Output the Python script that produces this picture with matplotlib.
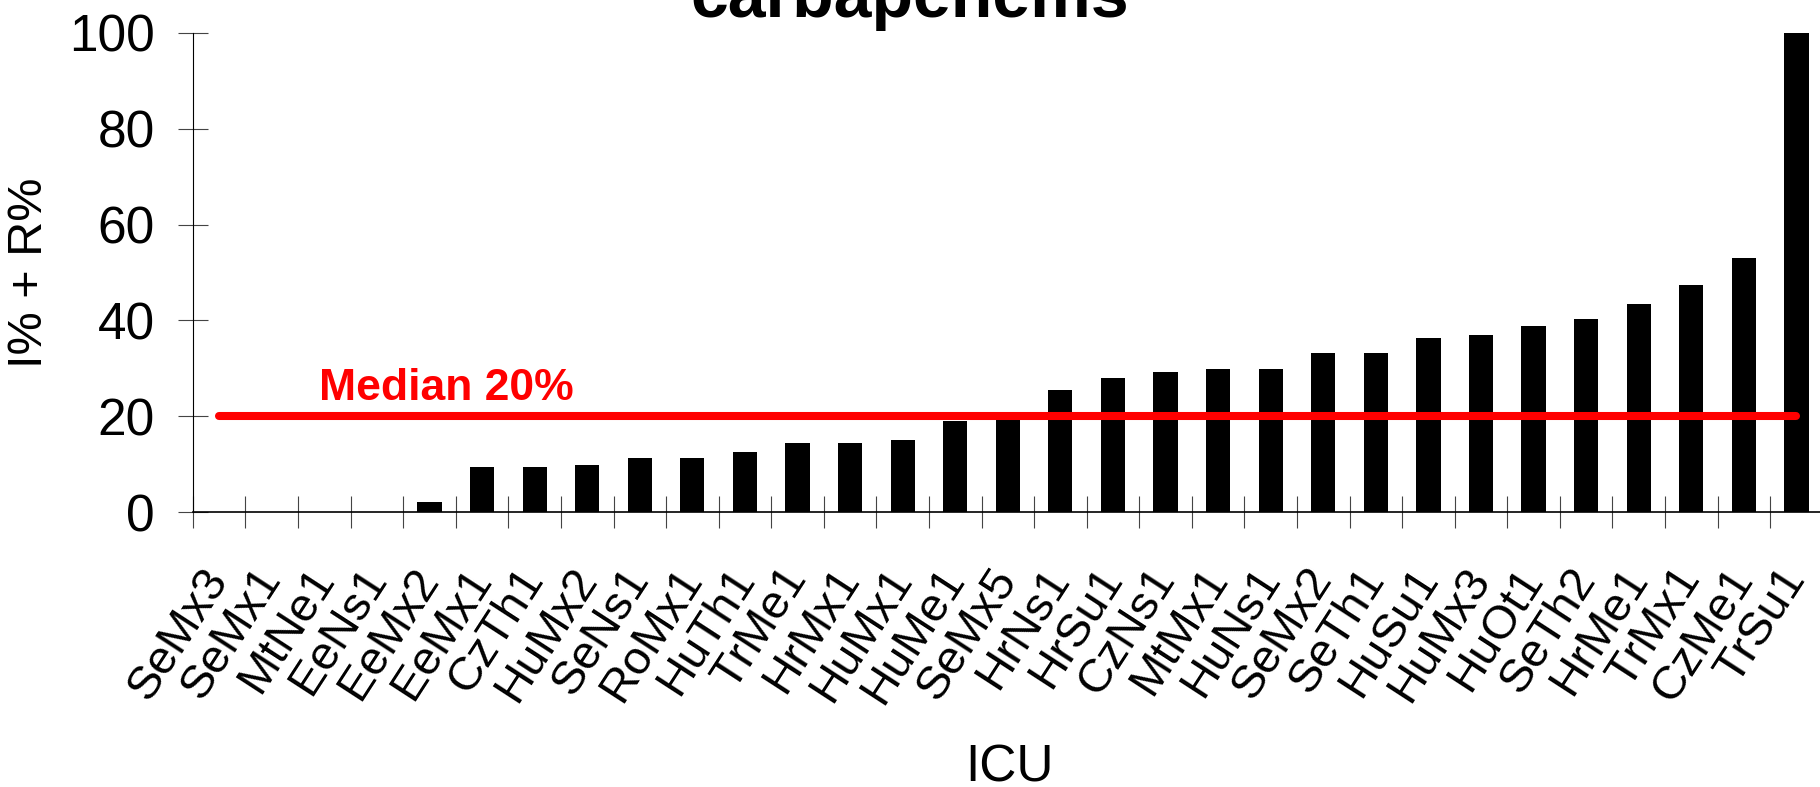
import numpy as np
import matplotlib.pyplot as plt

# données (I% + R%, carbapénèmes)
icu = ["SeMx3", "SeMx1", "MtNe1", "EeNs1", "EeMx2", "EeMx1", "CzTh1", "HuMx2",
       "SeNs1", "RoMx1", "HuTh1", "TrMe1", "HrMx1", "HuMx1", "HuMe1", "SeMx5",
       "HrNs1", "HrSu1", "CzNs1", "MtMx1", "HuNs1", "SeMx2", "SeTh1", "HuSu1",
       "HuMx3", "HuOt1", "SeTh2", "HrMe1", "TrMx1", "CzMe1", "TrSu1"]
valeurs = [0, 0, 0, 0, 2.1, 9.3, 9.3, 9.9, 11.2, 11.2, 12.5, 14.5, 14.5, 15.1,
           19.0, 20.0, 25.4, 27.9, 29.3, 29.9, 29.9, 33.1, 33.1, 36.3, 37.0,
           38.9, 40.2, 43.4, 47.3, 53.1, 100]
mediane = 20

plt.rcParams['font.family'] = ['Liberation Sans', 'DejaVu Sans']

fig = plt.figure(figsize=(18.2, 7.87), dpi=100)
ax = fig.add_axes([0.106, 0.3494, 0.8955, 0.6087])

x = np.arange(len(icu))
ax.bar(x, valeurs, width=0.46, color="black")

# ligne de la médiane
ax.plot([x[0], x[-1]], [mediane, mediane], color="#ff0000", lw=5.8,
        solid_capstyle="round", zorder=3)
ax.text(1.9, 23.4, "Median 20%", color="#ff0000", fontsize=32,
        fontweight="bold", ha="left", va="baseline")

ax.set_xlim(-0.5, len(icu) - 0.5)
ax.set_ylim(0, 100)
ax.set_yticks([0, 20, 40, 60, 80, 100])

ax.set_xticks(x)
ax.set_xticklabels(icu, rotation=57, ha="right", va="center",
                   rotation_mode="anchor", fontsize=34)
ax.set_xticks(np.arange(len(icu) + 1) - 0.5, minor=True)
ax.tick_params(axis="x", which="major", length=0, pad=43)
ax.tick_params(axis="x", which="minor", direction="inout", length=23,
               width=0.8, color="#444444")
ax.tick_params(axis="y", direction="inout", length=21, width=0.8,
               color="#444444", labelsize=37, pad=17)

for s in ["top", "right"]:
    ax.spines[s].set_visible(False)
ax.spines["left"].set_linewidth(0.8)
ax.spines["bottom"].set_linewidth(1.2)

ax.set_ylabel("I% + R%", fontsize=35)
ax.yaxis.set_label_coords(-0.0865, 0.5)
fig.text(0.5548, 5 / 787, "ICU", fontsize=37, ha="center", va="baseline")
fig.text(0.5, 1 - 17 / 787, "carbapenems", fontsize=49, fontweight="bold",
         ha="center", va="baseline")

fig.savefig("out.png", dpi=100)
